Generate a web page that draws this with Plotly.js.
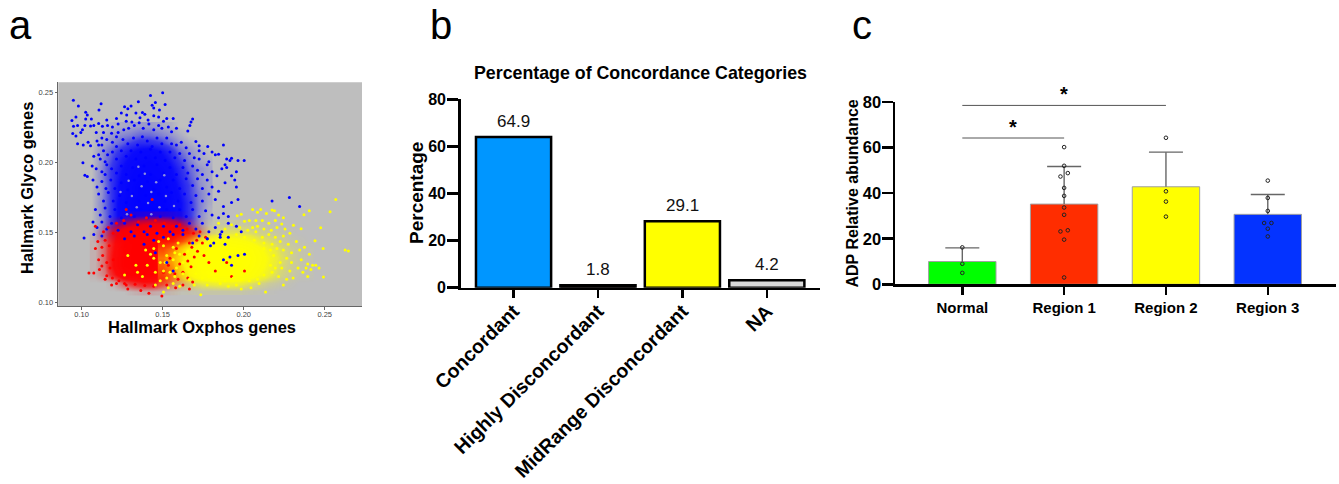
<!DOCTYPE html>
<html><head><meta charset="utf-8">
<script src="https://cdn.plot.ly/plotly-3.0.1.min.js"></script>
<style>html,body{margin:0;padding:0;background:#fff}</style></head>
<body><div id="chart" style="width:1339px;height:484px"></div>
<script>
// Panel a: sparse outliers are individual readings; the dense clouds, where single dots cannot be told apart,
// are estimated by eye as coverage grids (0 = no dots, 1 = solid colour) with a reduced hand-read sample of dots on top.
const blueGridX=[.106,.112,.118,.124,.130,.136,.142,.148,.154,.160,.166,.172,.178];
const blueGridY=[.142,.148,.154,.160,.166,.172,.178,.184,.190,.196,.202,.208,.214,.220,.226];
const blueCover=[
[0,0,0,.05,.1,.1,.1,.1,.1,.1,.05,0,0],
[0,.1,.2,.4,.5,.5,.5,.45,.35,.25,.15,.05,0],
[0,.1,.3,.6,.75,.8,.85,.8,.65,.45,.25,.1,0],
[0,.1,.3,.65,.85,.95,1,.95,.8,.6,.35,.12,.03],
[0,.12,.3,.65,.85,.95,1,.95,.85,.6,.35,.15,.03],
[0,.12,.3,.65,.85,.95,.95,.95,.8,.6,.35,.15,.05],
[0,.1,.3,.6,.8,.9,.95,.9,.75,.55,.3,.15,.05],
[0,.1,.3,.6,.8,.9,.9,.85,.7,.5,.3,.12,.05],
[0,.12,.3,.55,.75,.85,.85,.8,.65,.45,.25,.1,.05],
[0,.12,.3,.5,.7,.8,.8,.75,.6,.4,.2,.1,.05],
[0,.1,.25,.45,.6,.7,.75,.65,.5,.3,.15,.05,.03],
[0,.1,.2,.35,.5,.6,.65,.55,.4,.2,.1,.05,0],
[0,.05,.12,.2,.3,.38,.38,.32,.2,.1,.05,0,0],
[0,.03,.08,.12,.15,.2,.2,.15,.1,.05,0,0,0],
[0,0,.02,.04,.06,.08,.08,.06,.04,0,0,0,0]];
const redGridX=[.108,.114,.120,.126,.132,.138,.144,.150,.156,.162,.168,.174,.180];
const redGridY=[.108,.114,.120,.126,.132,.138,.144,.150,.156,.162];
const redCover=[
[0,0,0,0,.03,.05,.05,.03,.02,0,0,0,0],
[0,0,.05,.25,.4,.5,.5,.35,.2,.12,.05,0,0],
[.03,.15,.45,.85,.95,1,.95,.75,.5,.3,.15,.05,0],
[.03,.2,.6,.95,1,1,1,.85,.6,.4,.2,.08,.02],
[.03,.2,.6,.95,1,1,1,.9,.7,.45,.25,.1,.03],
[.03,.2,.55,.95,1,1,1,.9,.7,.5,.3,.12,.03],
[.03,.2,.5,.9,1,1,1,.95,.85,.65,.4,.15,.03],
[.02,.15,.4,.8,.95,1,1,1,.9,.75,.45,.15,.02],
[0,.05,.15,.3,.45,.55,.6,.6,.5,.3,.12,.03,0],
[0,0,0,.02,.04,.05,.06,.06,.04,.02,0,0,0]];
const yellowGridX=[.150,.156,.162,.168,.174,.180,.186,.192,.198,.204,.210,.216,.222,.228,.234,.240];
const yellowGridY=[.108,.114,.120,.126,.132,.138,.144,.150,.156];
const yellowCover=[
[0,.02,.02,.03,.05,.05,.05,.05,.05,.03,.02,.01,0,0,0,0],
[.05,.1,.12,.2,.3,.35,.4,.4,.35,.25,.15,.08,.05,.02,0,0],
[.1,.2,.35,.6,.85,.95,1,1,.95,.75,.5,.3,.15,.08,.03,.02],
[.15,.25,.45,.75,1,1,1,1,1,.9,.65,.4,.2,.1,.05,.02],
[.2,.3,.5,.8,1,1,1,1,1,.95,.7,.45,.25,.12,.05,.02],
[.12,.2,.4,.65,.85,1,1,1,1,.85,.6,.35,.2,.1,.05,.02],
[.03,.05,.12,.25,.45,.6,.7,.7,.6,.5,.3,.2,.1,.05,.02,0],
[0,0,.02,.05,.1,.15,.2,.25,.25,.2,.12,.08,.05,.02,0,0],
[0,0,0,0,.02,.03,.05,.06,.06,.05,.03,.02,0,0,0,0]];
const bluePoints=[[.15,.25],[.1425,.248],[.1455,.243],[.1435,.241],[.1445,.239],[.1515,.2415],[.135,.2435],[.1305,.2405],[.1265,.24],[.1285,.2385],[.112,.242],[.0949,.2445],[.098,.2405],[.1107,.2375],[.1025,.236],[.1035,.234],[.1245,.2355],[.1278,.234],[.1335,.2355],[.1375,.2358],[.139,.2345],[.1445,.2335],[.148,.2375],[.1475,.2325],[.1525,.2315],[.1565,.2315],[.1685,.2312],[.1675,.229],[.094,.23],[.0965,.2325],[.1025,.2312],[.106,.2312],[.1155,.2305],[.1215,.2315],[.1275,.2295],[.131,.229],[.136,.232],[.141,.2305],[.1505,.2295],[.095,.226],[.0975,.2265],[.102,.2265],[.1055,.2262],[.1075,.2265],[.1105,.228],[.1128,.226],[.116,.2265],[.119,.2255],[.1225,.2275],[.126,.2235],[.129,.2245],[.1325,.2265],[.1355,.2285],[.138,.2245],[.1415,.2275],[.1445,.2235],[.1475,.2265],[.1495,.2245],[.1535,.2255],[.1555,.222],[.1585,.2245],[.1668,.2265],[.1655,.2225],[.1185,.221],[.1225,.2215],[.1135,.2215],[.109,.2215],[.1005,.2235],[.0995,.2215],[.0945,.2208],[.0965,.219],[.0975,.2135],[.101,.2125],[.104,.2145],[.1055,.212],[.1095,.2155],[.1125,.2175],[.1105,.2125],[.1155,.2165],[.119,.2145],[.1125,.2125],[.1215,.2185],[.1255,.2165],[.1285,.2135],[.1215,.2115],[.132,.2175],[.1345,.2125],[.1375,.2185],[.1405,.2155],[.1435,.2115],[.1465,.2175],[.1495,.2135],[.1525,.2175],[.1555,.2135],[.1585,.2125],[.1615,.2145],[.1645,.2105],[.1705,.215],[.1725,.212],[.1875,.2125],[.1845,.206],[.1825,.2055],[.1778,.2115],[.1075,.2045],[.1105,.2055],[.1135,.2085],[.1115,.2025],[.116,.2055],[.119,.2075],[.1145,.2005],[.1215,.2025],[.1245,.2085],[.1275,.2045],[.1305,.2085],[.1335,.2025],[.1365,.2075],[.1395,.2035],[.1425,.2095],[.1455,.2035],[.1485,.2075],[.1515,.2015],[.1545,.2075],[.1575,.2035],[.1605,.2065],[.1635,.2015],[.1665,.2065],[.1695,.2035],[.1725,.2085],[.1755,.2065],[.1785,.2005],[.1725,.2025],[.1805,.2075],[.1895,.2025],[.1915,.2015],[.1965,.2015],[.2003,.2015],[.1925,.203],[.1885,.1985],[.1008,.1998],[.102,.191],[.1035,.19],[.1065,.1975],[.109,.1955],[.1125,.1935],[.1155,.1985],[.1145,.1915],[.1185,.1955],[.1215,.1925],[.1245,.1975],[.1275,.1915],[.1315,.1965],[.1355,.1905],[.1385,.1975],[.1425,.1915],[.1465,.1985],[.1505,.1925],[.1545,.1965],[.1585,.1915],[.1625,.1965],[.1655,.1925],[.1685,.1975],[.1715,.1945],[.1745,.1915],[.1775,.1985],[.1805,.1935],[.1835,.1905],[.1865,.1955],[.1895,.1965],[.1925,.1905],[.1955,.1935],[.107,.1875],[.1095,.1825],[.1125,.1865],[.115,.1815],[.118,.1875],[.1205,.1815],[.1245,.1855],[.1285,.1805],[.1325,.1875],[.1365,.1815],[.1405,.1865],[.1445,.1805],[.1485,.1875],[.1525,.1825],[.1565,.1875],[.1605,.1815],[.1645,.1885],[.1685,.1835],[.1715,.1885],[.1745,.1815],[.1775,.1875],[.1805,.1825],[.1845,.1795],[.1885,.1855],[.1945,.1875],[.1955,.1825],[.1105,.1775],[.1135,.1725],[.1165,.1785],[.1195,.1725],[.1235,.1765],[.1275,.1715],[.1315,.1775],[.1355,.1725],[.1395,.1765],[.1435,.1715],[.1475,.1775],[.1515,.1725],[.1555,.1785],[.1595,.1725],[.1635,.1775],[.1675,.1715],[.1705,.1765],[.1745,.1725],[.1785,.1775],[.1825,.1735],[.1875,.1685],[.1925,.1715],[.1965,.1735],[.2175,.1725],[.2282,.175],[.2345,.1685],[.1085,.1665],[.1115,.1625],[.1145,.1675],[.1175,.1615],[.1205,.1665],[.1245,.1605],[.1285,.1665],[.1325,.1615],[.1365,.1665],[.1405,.1605],[.1445,.1665],[.1485,.1615],[.1525,.1665],[.1565,.1605],[.1605,.1665],[.1645,.1615],[.1685,.1665],[.1725,.1615],[.1765,.1655],[.1805,.1625],[.1845,.1605],[.1875,.1635],[.1905,.1615],[.1015,.146],[.107,.1575],[.1095,.1535],[.1075,.1485],[.1125,.1575],[.1155,.1525],[.1185,.1565],[.1225,.1515],[.1265,.1565],[.1305,.1505],[.1345,.1555],[.1385,.1505],[.1425,.1545],[.1465,.1495],[.1505,.1545],[.1545,.1505],[.1585,.1545],[.1625,.1515],[.1665,.1565],[.1705,.1525],[.1745,.1565],[.1785,.1505],[.1825,.1535],[.1865,.1505],[.1905,.1565],[.1955,.1545],[.1985,.1505],[.1125,.1475],[.1775,.1455],[.1815,.1425],[.1855,.1465],[.1885,.1415]];
const redPoints=[[.1495,.1045],[.1285,.1095],[.1365,.1085],[.1415,.1065],[.1525,.1125],[.1665,.1095],[.1215,.1135],[.1265,.1135],[.1145,.1165],[.1185,.1125],[.1045,.121],[.1075,.121],[.111,.1235],[.1125,.126],[.1155,.119],[.119,.1175],[.123,.1155],[.1275,.1125],[.133,.113],[.139,.112],[.1445,.1115],[.158,.1105],[.1625,.1125],[.1685,.1145],[.1105,.1305],[.113,.1335],[.1155,.1285],[.1175,.1245],[.1195,.1305],[.1085,.1385],[.11,.1435],[.1125,.1395],[.1145,.1445],[.117,.1405],[.1135,.1505],[.1085,.1545],[.1165,.1535],[.1195,.1495],[.1215,.1565],[.126,.1585],[.1305,.1625],[.135,.1575],[.14,.1605],[.1435,.1735],[.1275,.1665],[.1455,.1585],[.151,.1565],[.156,.1545],[.1605,.1555],[.165,.1525],[.169,.1495],[.173,.1505],[.1765,.1465],[.1745,.1425],[.171,.1445],[.168,.1395],[.1715,.1365],[.1695,.1325],[.1655,.1295],[.1675,.1255],[.1625,.1215],[.1655,.1175],[.1595,.1165],[.1755,.1335],[.1785,.1285],[.1825,.1225],[.1895,.1285],[.1925,.1185],[.2005,.1225],[.1545,.1315],[.1605,.1275],[.1575,.1205],[.1635,.1345],[.1585,.1385],[.1665,.1425],[.1505,.1215],[.1535,.1265]];
const yellowPoints=[[.2568,.1736],[.2533,.1648],[.2626,.1374],[.2646,.1367],[.2492,.1181],[.2475,.1533],[.2405,.1655],[.2372,.1626],[.244,.144],[.249,.1386],[.2354,.1526],[.2307,.1552],[.2105,.1665],[.2055,.1665],[.2085,.1645],[.214,.1635],[.2175,.166],[.219,.1655],[.1985,.163],[.196,.162],[.2215,.1625],[.2245,.1605],[.2235,.156],[.2195,.1585],[.2155,.1565],[.2115,.1585],[.2075,.1585],[.2035,.1585],[.2005,.158],[.2055,.1535],[.2085,.1545],[.2125,.1525],[.217,.1515],[.2205,.1535],[.2255,.1525],[.2285,.1495],[.2245,.1475],[.2195,.1465],[.2155,.1485],[.2115,.1465],[.2075,.1505],[.2025,.1515],[.1975,.1535],[.1925,.1555],[.1885,.1525],[.1845,.1565],[.1955,.1485],[.2005,.1465],[.2065,.1445],[.2125,.1425],[.2175,.1415],[.2225,.1435],[.2275,.1415],[.2325,.1435],[.2375,.1395],[.2345,.1375],[.2405,.1345],[.2295,.1355],[.2245,.1375],[.2205,.1385],[.2265,.1315],[.2225,.1285],[.2295,.1285],[.2355,.1305],[.2395,.1275],[.2425,.1265],[.2385,.1245],[.2415,.1235],[.2365,.1215],[.2395,.1185],[.2445,.1265],[.2465,.1245],[.2335,.1245],[.2285,.1225],[.2305,.1175],[.2265,.1165],[.2245,.1125],[.2135,.1075],[.2095,.1135],[.2045,.1105],[.1985,.1095],[.1955,.1125],[.1905,.1115],[.1855,.1135],[.1775,.1125],[.1735,.1055],[.1695,.1125],[.1605,.1115],[.1505,.1075],[.1535,.1105],[.1565,.1135],[.1455,.1125],[.1485,.1155],[.1525,.1175],[.1575,.1185],[.1625,.1205],[.1665,.1165],[.1705,.1205],[.1745,.1175],[.1785,.1185],[.1835,.1175],[.1885,.1155],[.1935,.1175],[.1985,.1165],[.2035,.1155],[.2085,.1165],[.2125,.1195],[.2175,.1215],[.2215,.1185],[.2165,.1265],[.2195,.1245],[.2235,.1245],[.2185,.1335],[.2165,.1375],[.2125,.1385],[.1655,.1365],[.1605,.1345],[.1565,.1305],[.1525,.1335],[.1485,.1285],[.1445,.1315],[.1405,.1265],[.1345,.1215],[.1285,.1335],[.1265,.1195],[.1585,.1245],[.1625,.1285],[.1545,.1215],[.1505,.1225],[.1455,.1215],[.1395,.1375],[.1505,.1405],[.1565,.1395],[.1445,.1385],[.1335,.1265],[.1425,.1345],[.1475,.1435],[.1535,.1455],[.1595,.1425],[.1375,.1185],[.1515,.1285],[.1575,.1355]];
const blueOverlay=[[.1445,.1445],[.1385,.1415],[.1505,.1465],[.1325,.1475],[.1265,.1455],[.1565,.1485],[.1625,.1485],[.1685,.1425],[.1725,.1475],[.1405,.1485],[.1455,.1355],[.1525,.1285],[.1565,.1225],[.1795,.1405],[.1915,.1325],[.1965,.1335],[.1775,.1455],[.1855,.1485],[.1905,.1465],[.1875,.1305],[.1925,.1265],[.2005,.1345]];
// Lighter flecks inside the blue cloud, where the gray shows between dots
const grayFlecks=[[.137,.183],[.143,.179],[.131,.176],[.148,.168],[.139,.192],[.146,.186],[.129,.187],[.152,.176],[.134,.168],[.143,.163],[.128,.163],[.135,.197],[.151,.191],[.124,.179],[.157,.169],[.141,.171]];

// Panel b
const bCategories=['Concordant','Highly Disconcordant','MidRange Disconcordant','NA'];
const bLabels=['64.9','1.8','29.1','4.2'];
const bHeights=[64,1.05,28.2,3.2];
const bColors=['#0096ff','#1a0505','#ffff00','#d9d9d9'];
const bTicks=[0,20,40,60,80];

// Panel c
const cCategories=['Normal','Region 1','Region 2','Region 3'];
const cPositions=[0,1,2,3];
const cMeans=[10,35.2,42.8,30.7];
const cErrors=[6,16.5,15.2,8.7];
const cColors=['#00ff00','#ff2d00','#ffff00','#0433ff'];
const cPointX=[0,0,0, 1,1,1.036,.964,1,1,1,1,1.036,.964,1,1, 2,2,2,2, 3,3,3,3.036,2.964,3,3];
const cPointY=[16.2,9,5, 60.2,52,48.8,47.3,42.3,38.8,33.7,30.5,23.7,23.2,19.6,3, 64.3,40.8,36.3,29.7, 45.5,37.9,32.2,26.9,26.9,24.4,21];
const cBracketUpperX=[0,2], cBracketUpperY=[78.5,78.5];
const cBracketLowerX=[0,1], cBracketLowerY=[64.2,64.2];
const cTicks=[0,20,40,60,80];
const capHalf=.167;

const W=1339,H=484;
const fx=p=>p/W, fy=p=>1-p/H;
const SANS='"Liberation Sans",Arial,sans-serif';
const xs=a=>a.map(p=>p[0]), ys=a=>a.map(p=>p[1]);
const dots=(pts,color,size)=>({type:'scatter',mode:'markers',x:xs(pts),y:ys(pts),xaxis:'x',yaxis:'y',
  marker:{color,size,line:{width:0}},hoverinfo:'skip',showlegend:false});
const cloud=(x,y,z,rgb)=>({type:'heatmap',x,y,z,xaxis:'x',yaxis:'y',zmin:0,zmax:1,zsmooth:'best',showscale:false,hoverinfo:'skip',
  colorscale:[[0,`rgba(${rgb},0)`],[.15,`rgba(${rgb},.35)`],[.3,`rgba(${rgb},.7)`],[.55,`rgba(${rgb},.95)`],[1,`rgba(${rgb},1)`]]});

const errX=[],errY=[];
cPositions.forEach((c,i)=>{const top=cMeans[i]+cErrors[i];
  errX.push(c,c,null,c-capHalf,c+capHalf,null);errY.push(cMeans[i],top,null,top,top,null);});

const data=[
 cloud(blueGridX,blueGridY,blueCover,'0,0,255'),
 dots(bluePoints,'#0000ff',3),
 dots(grayFlecks,'#8f8fe0',2.5),
 cloud(redGridX,redGridY,redCover,'255,0,0'),
 dots(redPoints,'#ff0000',3),
 cloud(yellowGridX,yellowGridY,yellowCover,'255,255,0'),
 dots(yellowPoints,'#ffff00',3),
 dots(blueOverlay,'#0000ff',3),
 {type:'bar',x:bCategories,y:bHeights,xaxis:'x2',yaxis:'y2',width:.89,
  marker:{color:bColors,line:{color:'#000',width:2.5}},showlegend:false,hoverinfo:'skip'},
 {type:'bar',x:cPositions,y:cMeans,xaxis:'x3',yaxis:'y3',width:.662,
  marker:{color:cColors,line:{color:'#a0a0a0',width:1}},showlegend:false,hoverinfo:'skip'},
 {type:'scatter',mode:'lines',x:errX,y:errY,xaxis:'x3',yaxis:'y3',connectgaps:false,line:{color:'#666',width:1.4},showlegend:false,hoverinfo:'skip'},
 {type:'scatter',mode:'markers',x:cPointX,y:cPointY,xaxis:'x3',yaxis:'y3',
  marker:{symbol:'circle-open',size:3.6,color:'#222',line:{width:1,color:'#222'}},showlegend:false,hoverinfo:'skip'},
 {type:'scatter',mode:'lines',x:cBracketUpperX,y:cBracketUpperY,xaxis:'x3',yaxis:'y3',line:{color:'#555',width:1},showlegend:false,hoverinfo:'skip'},
 {type:'scatter',mode:'lines',x:cBracketLowerX,y:cBracketLowerY,xaxis:'x3',yaxis:'y3',line:{color:'#555',width:1},showlegend:false,hoverinfo:'skip'}
];

const label=(text,x,y,size,opts)=>Object.assign({xref:'paper',yref:'paper',x:fx(x),y:fy(y),text,showarrow:false,
  xanchor:'center',yanchor:'middle',font:{family:SANS,size,color:'#000'}},opts||{});
const letter=(t,x)=>label(t,x,25,40);
const boldAxis={showgrid:false,zeroline:false,showline:true,linecolor:'#000',linewidth:2.5,ticks:'outside',tickwidth:2.5,tickcolor:'#000',ticklen:8};
const aAxis={showgrid:false,zeroline:false,showline:true,linecolor:'#666',linewidth:1.2,ticks:'outside',ticklen:2.5,tickwidth:1,tickcolor:'#666',
  tickvals:[.10,.15,.20,.25],ticktext:['0.10','0.15','0.20','0.25'],tickfont:{family:SANS,size:7.5,color:'#444'}};

const layout={width:W,height:H,margin:{l:0,r:0,t:0,b:0},paper_bgcolor:'#fff',plot_bgcolor:'#fff',showlegend:false,
 xaxis:Object.assign({},aAxis,{domain:[fx(58.3),fx(362)],range:[.0856,.273],anchor:'y',ticklabelstandoff:-2}),
 yaxis:Object.assign({},aAxis,{domain:[fy(306),fy(82.3)],range:[.0974,.2574],anchor:'x'}),
 xaxis2:Object.assign({},boldAxis,{domain:[fx(460.7),fx(820)],range:[-.626,3.63],anchor:'y2',type:'category',tickangle:-45,ticklabelstandoff:-6,
  tickfont:{family:SANS,size:19.5,color:'#000',weight:'bold'}}),
 yaxis2:Object.assign({},boldAxis,{domain:[fy(287.7),fy(99.3)],range:[0,80],anchor:'x2',tickvals:bTicks,ticklen:11,ticklabelstandoff:-2,
  tickfont:{family:SANS,size:16,color:'#000',weight:'bold'}}),
 xaxis3:Object.assign({},boldAxis,{domain:[fx(895),fx(1336)],range:[-.661,3.67],anchor:'y3',tickvals:cPositions,ticktext:cCategories,
  tickfont:{family:SANS,size:15,color:'#000',weight:'bold'}}),
 yaxis3:Object.assign({},boldAxis,{domain:[fy(284.3),fy(102)],range:[0,80],anchor:'x3',tickvals:cTicks,ticklen:11,ticklabelstandoff:-3,
  tickfont:{family:SANS,size:16.5,color:'#000',weight:'bold'}}),
 shapes:[{type:'rect',xref:'x domain',yref:'y domain',x0:0,x1:1,y0:0,y1:1,fillcolor:'#bebebe',line:{width:0},layer:'below'}],
 annotations:[
  letter('a',20),letter('b',441),letter('c',862),
  label('<b>Hallmark Oxphos genes</b>',202,327,16.5),
  label('<b>Hallmark Glyco genes</b>',27,188,16.5,{textangle:-90}),
  label('<b>Percentage of Concordance Categories</b>',640,73,17.8),
  label('<b>Percentage</b>',417,193,19,{textangle:-90}),
  label('<b>ADP Relative abundance</b>',852.5,193,16,{textangle:-90}),
  {xref:'x3',yref:'y3',x:1,y:78.5,yshift:11,text:'<b>*</b>',showarrow:false,font:{family:SANS,size:20,color:'#000'}},
  {xref:'x3',yref:'y3',x:.5,y:64.2,yshift:11,text:'<b>*</b>',showarrow:false,font:{family:SANS,size:20,color:'#000'}}
 ].concat(bLabels.map((t,i)=>({xref:'x2',yref:'y2',x:bCategories[i],y:bHeights[i],yshift:15.3,yanchor:'middle',text:t,showarrow:false,
   font:{family:SANS,size:17,color:'#111'}})))
};
Plotly.newPlot('chart',data,layout,{displayModeBar:false,staticPlot:true});
</script></body></html>
